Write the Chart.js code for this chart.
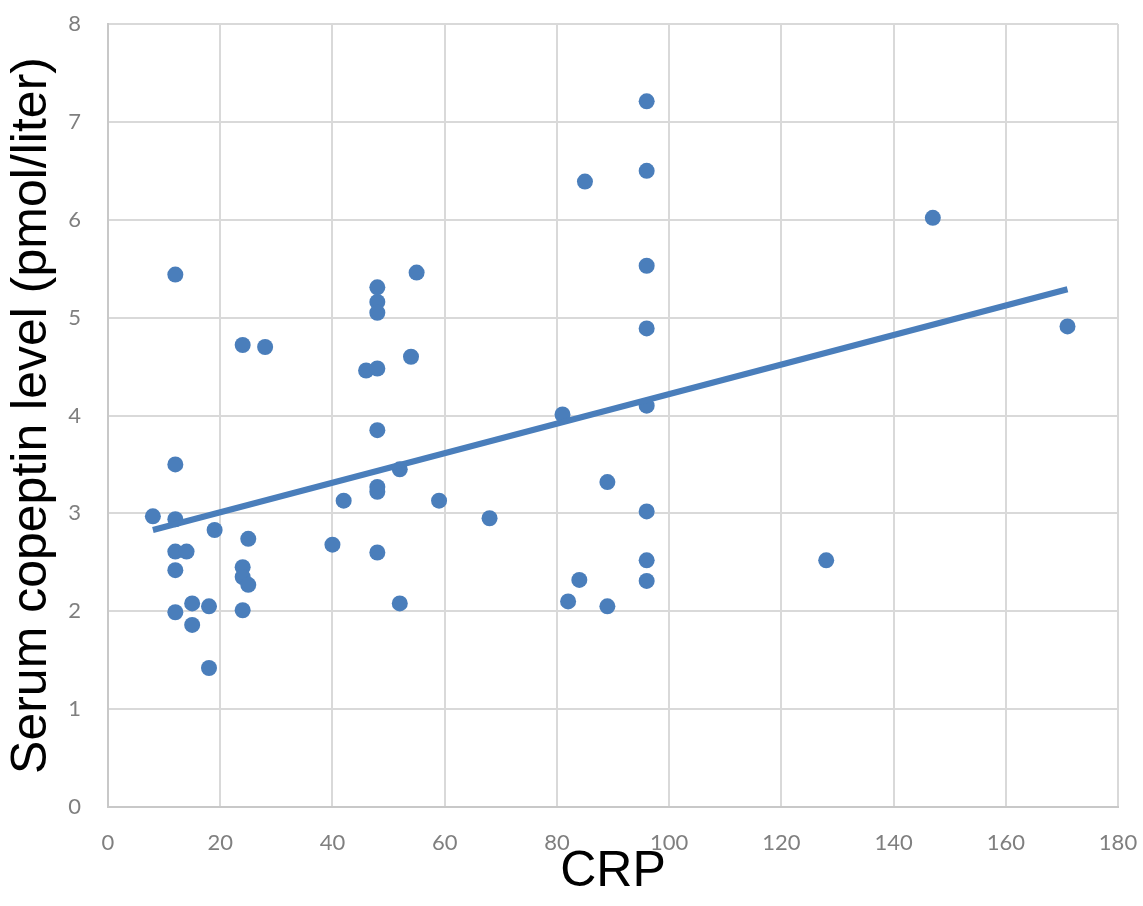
<!DOCTYPE html>
<html><head><meta charset="utf-8">
<script src="https://cdn.jsdelivr.net/npm/chart.js@4/dist/chart.umd.min.js"></script>
<style>html,body{margin:0;padding:0;background:#fff}</style>
</head><body>
<canvas id="c" width="1143" height="906" style="display:block;width:1143px;height:906px"></canvas>
<script>
const crp = [8, 12, 12, 12, 12, 14, 12, 12, 15, 15, 18, 18, 19, 24, 28, 25, 24, 24, 25, 24,
  40, 42, 46, 48, 48, 48, 48, 48, 48, 48, 48, 52, 52, 54, 55, 59, 68,
  81, 82, 84, 85, 89, 89, 96, 96, 96, 96, 96, 96, 96, 96, 128, 147, 171];
const copeptin = [2.97, 5.44, 3.50, 2.94, 2.61, 2.61, 2.42, 1.99, 2.08, 1.86, 2.05, 1.42, 2.83, 4.72, 4.70, 2.74, 2.45, 2.35, 2.27, 2.01,
  2.68, 3.13, 4.46, 4.48, 5.31, 5.16, 5.05, 3.85, 3.27, 3.22, 2.60, 3.45, 2.08, 4.60, 5.46, 3.13, 2.95,
  4.01, 2.10, 2.32, 6.39, 3.32, 2.05, 7.21, 6.50, 5.53, 4.89, 4.10, 3.02, 2.52, 2.31, 2.52, 6.02, 4.91];
const trendCrp = [8, 171];
const trendCopeptin = [2.83, 5.29];
const xTickValues = [0, 20, 40, 60, 80, 100, 120, 140, 160, 180];
const yTickValues = [0, 1, 2, 3, 4, 5, 6, 7, 8];
const xTitle = 'CRP';
const yTitle = 'Serum copeptin level (pmol/liter)';

const blue = '#4a7ebb';
const pts = crp.map((x, i) => ({x: x, y: copeptin[i]}));
const trend = trendCrp.map((x, i) => ({x: x, y: trendCopeptin[i]}));

new Chart(document.getElementById('c'), {
  type: 'scatter',
  data: {
    datasets: [
      {data: trend, showLine: true, borderColor: blue, borderWidth: 6, pointRadius: 0, borderCapStyle: 'butt', order: 0},
      {data: pts, backgroundColor: blue, borderWidth: 0, pointRadius: 8, order: 1}
    ]
  },
  options: {
    responsive: false,
    devicePixelRatio: 1,
    animation: false,
    layout: {autoPadding: false, padding: {left: 0, top: 24, right: 25, bottom: 0}},
    plugins: {legend: {display: false}, tooltip: {enabled: false}},
    scales: {
      x: {
        type: 'linear', min: 0, max: 180,
        afterBuildTicks: s => { s.ticks = xTickValues.map(v => ({value: v})); },
        afterFit: s => { s.height = 99; s.paddingLeft = 0; s.paddingRight = 0; },
        grid: {color: '#d9d9d9', lineWidth: 2, drawTicks: false},
        border: {color: '#c8c8c8', width: 2},
        ticks: {padding: 23, color: '#7f7f7f', font: {family: 'Lato, "Open Sans", sans-serif', size: 22}, maxRotation: 0},
        title: {display: true, text: xTitle, color: '#000', font: {family: '"Liberation Sans", Arial, sans-serif', size: 50, lineHeight: 1.2}, padding: {top: 0, bottom: 4}}
      },
      y: {
        type: 'linear', min: 0, max: 8,
        afterBuildTicks: s => { s.ticks = yTickValues.map(v => ({value: v})); },
        afterFit: s => { s.width = 108; s.paddingTop = 0; s.paddingBottom = 0; },
        grid: {color: '#d9d9d9', lineWidth: 2, drawTicks: false},
        border: {color: '#c8c8c8', width: 2},
        ticks: {padding: 27, color: '#7f7f7f', font: {family: 'Lato, "Open Sans", sans-serif', size: 22}},
        title: {display: true, text: yTitle, color: '#000', font: {family: '"Liberation Sans", Arial, sans-serif', size: 50, lineHeight: 1.2}, padding: {top: 2, bottom: 0}}
      }
    }
  }
});
</script>
</body></html>
